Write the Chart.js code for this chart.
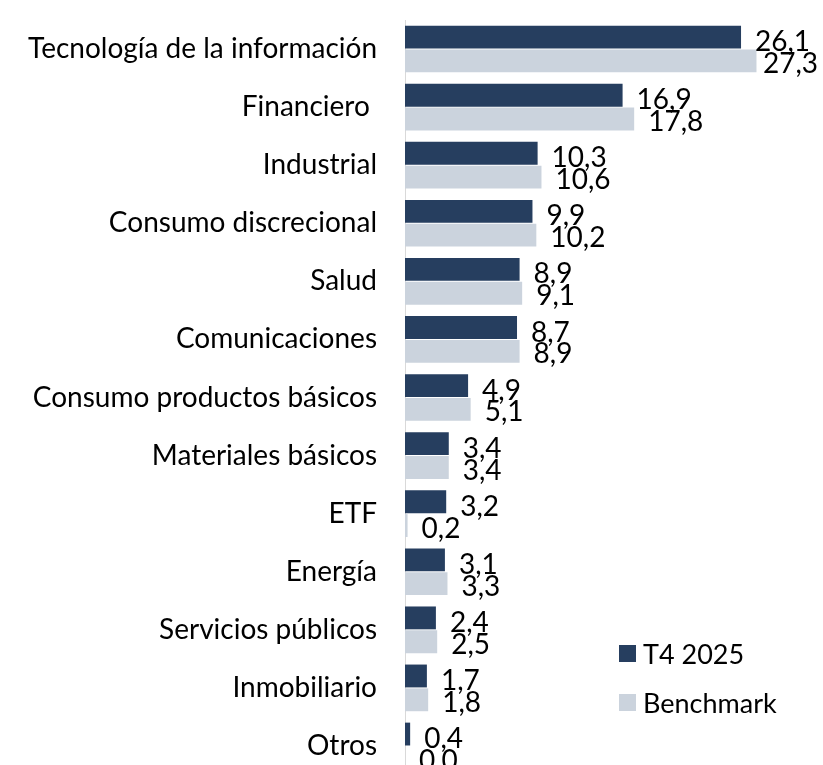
<!DOCTYPE html>
<html>
<head>
<meta charset="utf-8">
<script src="https://cdn.jsdelivr.net/npm/chart.js@4"></script>
<style>
  html, body { margin: 0; padding: 0; background: #fff; overflow: hidden; }
  #wrap { width: 823px; height: 775px; position: relative; }
</style>
</head>
<body>
<div id="wrap"><canvas id="sectorChart"></canvas></div>
<script>
// Sector weights (%)
const categories = [
    "Tecnología de la información", "Financiero ", "Industrial", "Consumo discrecional",
    "Salud", "Comunicaciones", "Consumo productos básicos", "Materiales básicos",
    "ETF", "Energía", "Servicios públicos", "Inmobiliario", "Otros"
];
const seriesNames = ["T4 2025", "Benchmark"];
const t4Values = [26.1, 16.9, 10.3, 9.9, 8.9, 8.7, 4.9, 3.4, 3.2, 3.1, 2.4, 1.7, 0.4];
const benchmarkValues = [27.3, 17.8, 10.6, 10.2, 9.1, 8.9, 5.1, 3.4, 0.2, 3.3, 2.5, 1.8, 0.0];

const FONT = "Lato, 'Open Sans', sans-serif";
const fmt = v => v.toFixed(1).replace(".", ",");

// ✅ Value labels at the end of each bar (kept inside the canvas)
const barLabels = {
    id: "barLabels",
    afterDatasetsDraw(chart) {
        const ctx = chart.ctx;
        ctx.save();
        ctx.font = "28px " + FONT;
        ctx.fillStyle = "#000";
        ctx.textAlign = "left";
        ctx.textBaseline = "middle";
        chart.data.datasets.forEach((ds, di) => {
            chart.getDatasetMeta(di).data.forEach((bar, i) => {
                const text = fmt(ds.data[i]);
                const w = ctx.measureText(text).width;
                const x = Math.min(bar.x + 14, chart.width - 5 - w);
                ctx.fillText(text, x, bar.y + (di === 0 ? 5 : 3));
            });
        });
        ctx.restore();
    }
};

// ✅ Legend in the lower right corner
const cornerLegend = {
    id: "cornerLegend",
    afterDraw(chart) {
        const ctx = chart.ctx;
        ctx.save();
        ctx.font = "27px " + FONT;
        ctx.textBaseline = "middle";
        chart.data.datasets.forEach((ds, i) => {
            const y = 654 + i * 49;
            ctx.fillStyle = ds.backgroundColor;
            ctx.fillRect(619, y - 9, 17, 17);
            ctx.fillStyle = "#000";
            ctx.fillText(ds.label, 643, y + 1);
        });
        ctx.restore();
    }
};

new Chart(document.getElementById("sectorChart"), {
    type: "bar",
    data: {
        labels: categories,
        datasets: [
            { label: seriesNames[0], data: t4Values, backgroundColor: "#263E5F" },
            { label: seriesNames[1], data: benchmarkValues, backgroundColor: "#CBD3DD" }
        ]
    },
    options: {
        indexAxis: "y",
        responsive: true,
        maintainAspectRatio: false,
        animation: false,
        layout: { padding: { top: 20, right: 6, bottom: 0, left: 0 } },
        datasets: { bar: { categoryPercentage: 0.82, barPercentage: 0.96 } },
        plugins: { legend: { display: false }, tooltip: { enabled: false } },
        scales: {
            x: {
                min: 0,
                max: 32,
                display: false
            },
            y: {
                afterFit(scale) {
                    scale.width = 405;
                    scale.paddingTop = 0;
                    scale.paddingBottom = 0;
                },
                grid: { display: false, drawTicks: false },
                border: { display: true, color: "#D9D9D9", width: 1 },
                ticks: {
                    color: "#000",
                    padding: 28,
                    font: { family: FONT, size: 28 }
                }
            }
        }
    },
    plugins: [barLabels, cornerLegend]
});
</script>
</body>
</html>
